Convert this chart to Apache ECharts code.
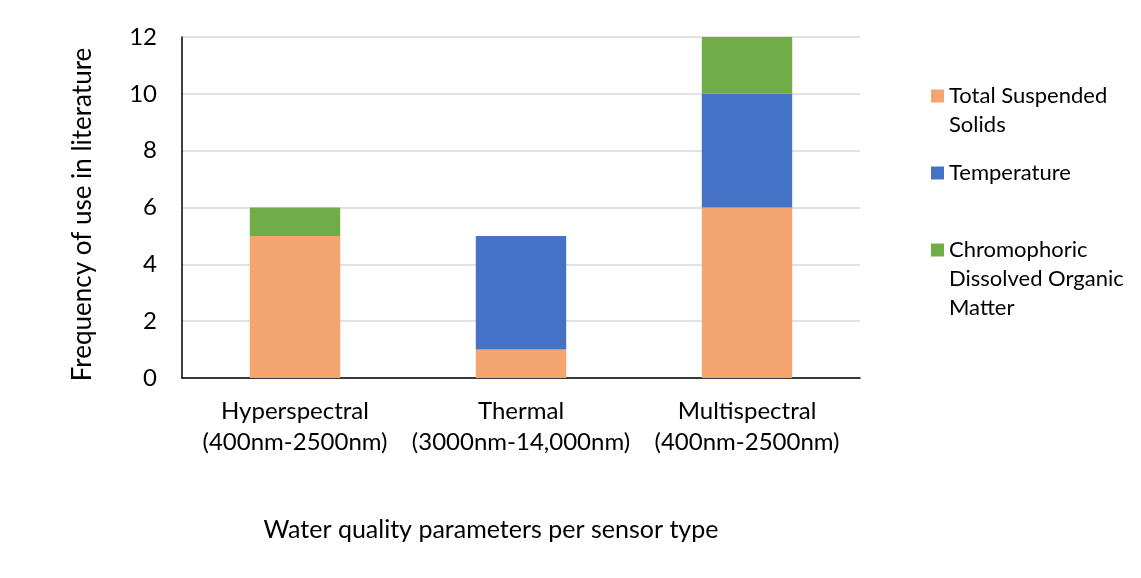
<!DOCTYPE html>
<html><head><meta charset="utf-8">
<script src="https://cdn.jsdelivr.net/npm/echarts@6/dist/echarts.min.js"></script>
<style>html,body{margin:0;padding:0;background:#fff}#c{width:1141px;height:578px}</style>
</head><body><div id="c"></div>
<script>
const categories = ['Hyperspectral\n(400nm-2500nm)', 'Thermal\n(3000nm-14,000nm)', 'Multispectral\n(400nm-2500nm)'];
const tss = [5, 1, 6];
const temperature = [0, 4, 4];
const cdom = [1, 0, 2];
const seriesNames = ['Total Suspended Solids', 'Temperature', 'Chromophoric Dissolved Organic Matter'];
const legendLabels = ['\nTotal Suspended\nSolids', 'Temperature', '\n\nChromophoric\nDissolved Organic\nMatter'];
const yTicks = {min: 0, max: 12, interval: 2};
const colors = ['#F4A46F', '#4472C4', '#70AD47'];
const FONT = 'Lato';

const chart = echarts.init(document.getElementById('c'));
const lh = 29;
const legendCenters = [96, 173, 250];
const legends = seriesNames.map((n, i) => {
  const lines = legendLabels[i].split('\n').length;
  return {
    data: [n], left: 931, top: legendCenters[i] - lines * lh / 2, padding: 0,
    itemWidth: 13, itemHeight: 13, icon: 'rect',
    formatter: () => legendLabels[i],
    textStyle: {fontFamily: FONT, fontSize: 22, color: '#000', lineHeight: lh}
  };
});
chart.setOption({
  animation: false,
  textStyle: {fontFamily: FONT},
  grid: {left: 182, right: 281, top: 37, bottom: 200},
  title: {text: 'Water quality parameters per sensor type', left: 486, textAlign: 'center', top: 512,
    textStyle: {fontFamily: FONT, fontSize: 25, fontWeight: 'normal', color: '#000'}},
  legend: legends,
  xAxis: {
    type: 'category', data: categories,
    axisLine: {lineStyle: {color: '#000', width: 1.5}},
    axisTick: {show: false},
    axisLabel: {fontFamily: FONT, fontSize: 24, color: '#000', lineHeight: 31, margin: 18, interval: 0}
  },
  yAxis: {
    type: 'value', min: yTicks.min, max: yTicks.max, interval: yTicks.interval,
    name: 'Frequency of use in literature', nameLocation: 'middle', nameGap: 86,
    nameTextStyle: {fontFamily: FONT, fontSize: 26, color: '#000', padding: [0, 14, 0, 0]},
    axisLine: {show: true, lineStyle: {color: '#000', width: 1.5}},
    axisLabel: {fontFamily: FONT, fontSize: 24, color: '#000', margin: 25},
    splitLine: {lineStyle: {color: '#D9D9D9', width: 1.5}}
  },
  series: [
    {name: seriesNames[0], type: 'bar', stack: 's', data: tss, barWidth: '40%', itemStyle: {color: colors[0]}},
    {name: seriesNames[1], type: 'bar', stack: 's', data: temperature, barWidth: '40%', itemStyle: {color: colors[1]}},
    {name: seriesNames[2], type: 'bar', stack: 's', data: cdom, barWidth: '40%', itemStyle: {color: colors[2]}}
  ]
});
</script></body></html>
